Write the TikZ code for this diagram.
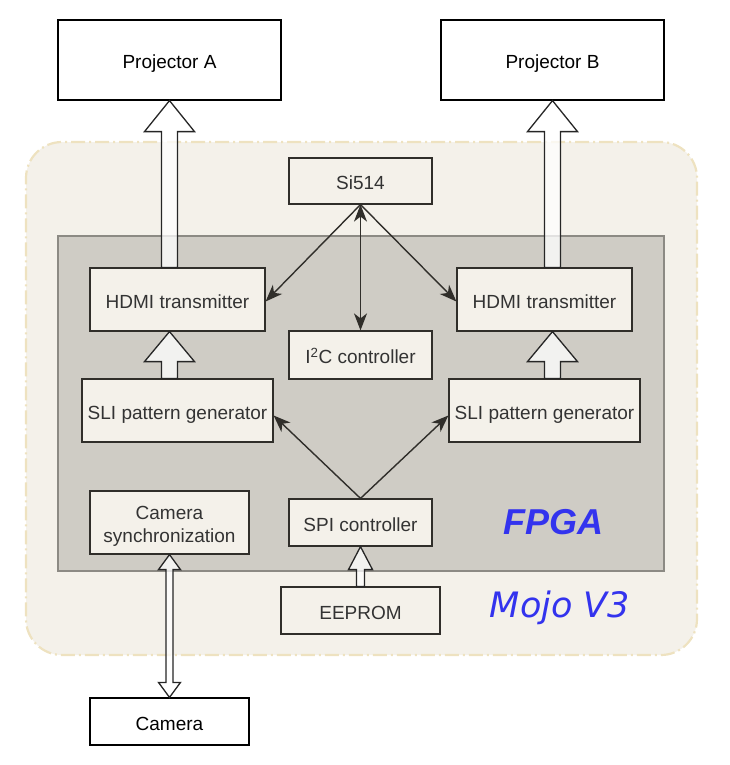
\documentclass[tikz,border=0pt]{standalone}
\usepackage{fontspec}
\setmainfont{Liberation Sans}
\newfontfamily\dejavu{DejaVu Sans}
\usetikzlibrary{arrows.meta,calc}

\begin{document}
\begin{tikzpicture}[x=1pt,y=-1pt]
%
\definecolor{col_bg}{RGB}{244,241,234}
\definecolor{col_fpga}{RGB}{207,204,197}
\definecolor{col_fpga_line}{RGB}{140,138,132}
\definecolor{col_mojo_line}{RGB}{238,226,192}
\definecolor{col_line}{RGB}{48,46,42}
\definecolor{col_text}{RGB}{51,51,51}
\definecolor{col_blue}{RGB}{51,51,238}
%
\tikzset{
  box/.style={draw=col_line, fill=col_bg, text=col_text, line width=1.2pt,
    inner sep=0pt, align=center, font=\fontsize{19}{23}\selectfont},
  onebox/.style={box, text height=17.5pt, text depth=0pt},
  extbox/.style={onebox, draw=black, fill=white, text=black},
  link/.style={draw=col_line, line width=1.4pt, >={Stealth[length=17pt,width=13pt,inset=5pt]}},
  hollow/.style={draw=black!85, line width=1.3pt, fill=white, fill opacity=0.75, line join=miter}
}
%
\useasboundingbox (0,0) rectangle (729,765);
%
% board and fpga
\node[draw=col_mojo_line, line width=2.2pt, fill=col_bg, rounded corners=36pt,
  dash pattern=on 14pt off 4pt on 2pt off 4pt,
  minimum width=671pt, minimum height=513pt] (mojo) at (361.5,398.5) {};
\node[draw=col_fpga_line, line width=1.4pt, fill=col_fpga,
  minimum width=606pt, minimum height=335pt] (fpga) at (361,403.5) {};
%
\node[text=col_blue, font=\fontsize{36}{40}\selectfont\bfseries\itshape] (fpgalab) at (553,522) {FPGA};
\node[text=col_blue, font=\fontsize{35}{40}\selectfont\dejavu\itshape] (mojolab) at (560,608) {Mojo V3};
%
% blocks
\node[extbox, minimum width=223pt, minimum height=80pt] (proja) at (169.5,60) {Projector A};
\node[extbox, minimum width=223pt, minimum height=80pt] (projb) at (552.5,60) {Projector B};
\node[onebox, minimum width=143pt, minimum height=46pt] (si) at (360.5,181) {Si514};
\node[onebox, minimum width=175pt, minimum height=63pt] (hdmia) at (177.5,299.5) {HDMI transmitter};
\node[onebox, minimum width=175pt, minimum height=63pt] (hdmib) at (544.5,299.5) {HDMI transmitter};
\node[onebox, minimum width=143pt, minimum height=48pt] (i2c) at (360.5,355) {I\textsuperscript{2}C controller};
\node[onebox, minimum width=191pt, minimum height=63pt] (slia) at (177.5,410.5) {SLI pattern generator};
\node[onebox, minimum width=191pt, minimum height=63pt] (slib) at (544.5,410.5) {SLI pattern generator};
\node[box, minimum width=159pt, minimum height=63pt] (camsync) at (169.5,522.5) {\rule{0pt}{21.5pt}Camera\\synchronization};
\node[onebox, minimum width=143pt, minimum height=47pt] (spi) at (360.5,522.5) {SPI controller};
\node[onebox, minimum width=159pt, minimum height=47pt] (eeprom) at (360.5,610.5) {EEPROM};
\node[extbox, minimum width=159pt, minimum height=47pt] (camera) at (169.5,721.5) {Camera};
%
% thin links
\draw[link, <->] (si.south) -- (i2c.north);
\draw[link, ->] (si.south) -- ([yshift=-2pt]hdmia.east);
\draw[link, ->] (si.south) -- ([yshift=-2pt]hdmib.west);
\draw[link, ->] (spi.north) -- ([yshift=-5pt]slia.east);
\draw[link, ->] (spi.north) -- ([yshift=-5pt]slib.west);
%
% hollow arrows
\draw[hollow] let \p1=(proja.south |- hdmia.north), \p2=(proja.south) in
  (\x1-8pt,\y1) -- (\x1-8pt,\y2-31pt) -- (\x1-25pt,\y2-31pt) -- (\x2,\y2)
  -- (\x1+25pt,\y2-31pt) -- (\x1+8pt,\y2-31pt) -- (\x1+8pt,\y1) -- cycle;
\draw[hollow] let \p1=(projb.south |- hdmib.north), \p2=(projb.south) in
  (\x1-8pt,\y1) -- (\x1-8pt,\y2-31pt) -- (\x1-25pt,\y2-31pt) -- (\x2,\y2)
  -- (\x1+25pt,\y2-31pt) -- (\x1+8pt,\y2-31pt) -- (\x1+8pt,\y1) -- cycle;
\draw[hollow] let \p1=(proja.south |- slia.north), \p2=(proja.south |- hdmia.south) in
  (\x1-8pt,\y1) -- (\x1-8pt,\y2-30pt) -- (\x1-25pt,\y2-30pt) -- (\x2,\y2)
  -- (\x1+25pt,\y2-30pt) -- (\x1+8pt,\y2-30pt) -- (\x1+8pt,\y1) -- cycle;
\draw[hollow] let \p1=(projb.south |- slib.north), \p2=(projb.south |- hdmib.south) in
  (\x1-8pt,\y1) -- (\x1-8pt,\y2-30pt) -- (\x1-25pt,\y2-30pt) -- (\x2,\y2)
  -- (\x1+25pt,\y2-30pt) -- (\x1+8pt,\y2-30pt) -- (\x1+8pt,\y1) -- cycle;
\draw[hollow] let \p1=(eeprom.north), \p2=(spi.south) in
  (\x1-4pt,\y1) -- (\x1-4pt,\y2-23pt) -- (\x1-12pt,\y2-23pt) -- (\x2,\y2)
  -- (\x1+12pt,\y2-23pt) -- (\x1+4pt,\y2-23pt) -- (\x1+4pt,\y1) -- cycle;
\draw[hollow] let \p1=(camera.north), \p2=(camsync.south) in
  (\x1,\y1) -- (\x1+11pt,\y1+15pt) -- (\x1+3.5pt,\y1+15pt) -- (\x1+3.5pt,\y2-15pt)
  -- (\x1+11pt,\y2-15pt) -- (\x2,\y2) -- (\x1-11pt,\y2-15pt) -- (\x1-3.5pt,\y2-15pt)
  -- (\x1-3.5pt,\y1+15pt) -- (\x1-11pt,\y1+15pt) -- cycle;
%
\end{tikzpicture}
\end{document}
